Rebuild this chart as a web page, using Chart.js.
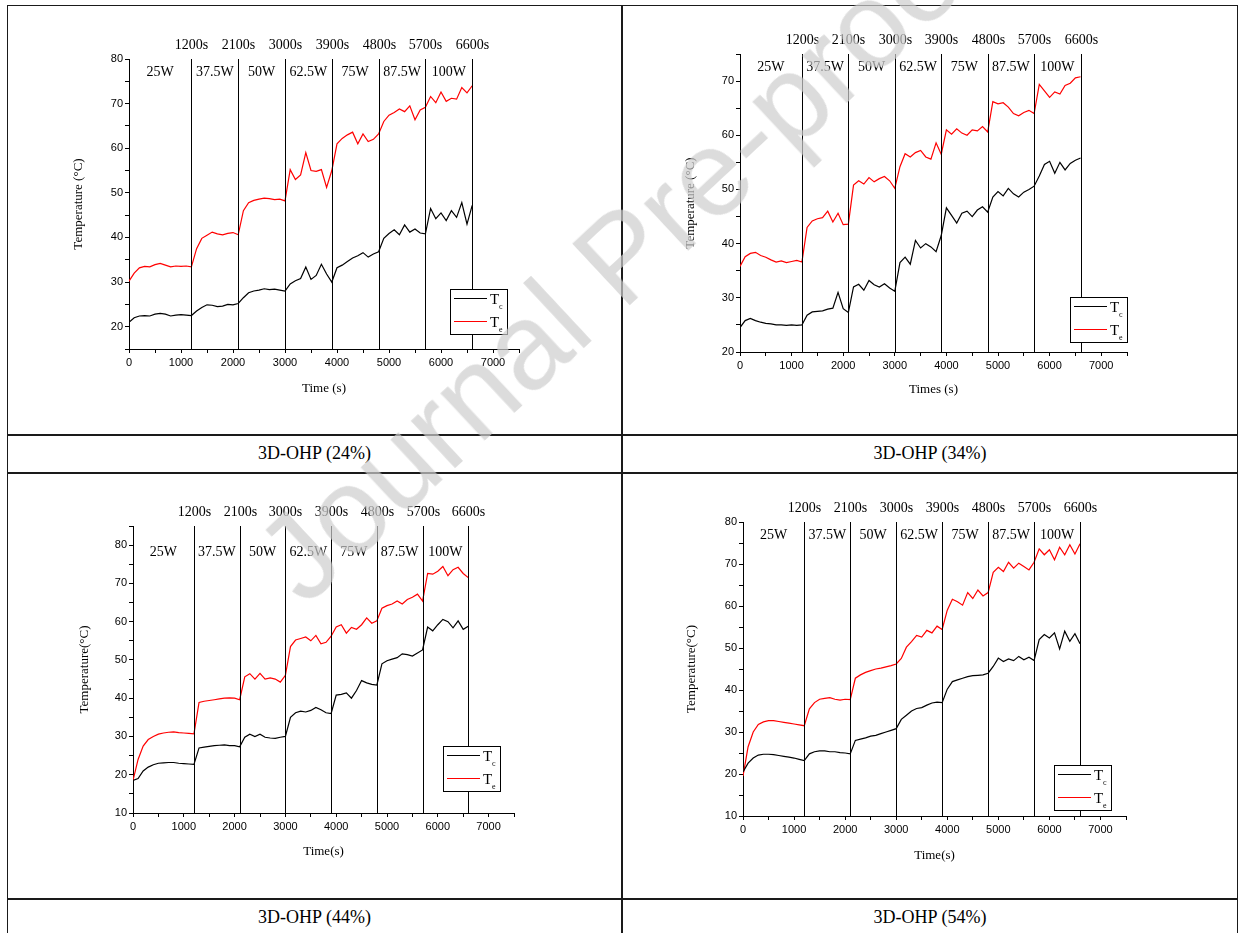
<!DOCTYPE html>
<html>
<head>
<meta charset="utf-8">
<script src="https://cdn.jsdelivr.net/npm/chart.js@4.4.0/dist/chart.umd.min.js"></script>
<style>
  html, body { margin: 0; padding: 0; background: #fff; }
  body { width: 1238px; height: 933px; position: relative; overflow: hidden; font-family: "Liberation Serif", serif; }
  .rule { position: absolute; background: #1a1a1a; }
  .panel { position: absolute; }
  .caption { position: absolute; font-size: 18px; color: #000; text-align: center; line-height: 20px; }
  .stamp {
    position: absolute; left: 318px; top: 500px;
    font: 122px "Liberation Sans", Arial, sans-serif; line-height: 122px;
    color: rgba(205, 205, 205, 0.7); white-space: nowrap;
    transform-origin: 0 100%; transform: rotate(-43deg);
    pointer-events: none; z-index: 5;
  }
</style>
</head>
<body>

<!-- table rules -->
<div class="rule" style="left:7px;top:5px;width:1231px;height:1px"></div>
<div class="rule" style="left:7px;top:5px;width:1px;height:928px"></div>
<div class="rule" style="left:621px;top:5px;width:2px;height:928px"></div>
<div class="rule" style="left:1237px;top:5px;width:1px;height:928px"></div>
<div class="rule" style="left:7px;top:434px;width:1231px;height:2px"></div>
<div class="rule" style="left:7px;top:472px;width:1231px;height:2px"></div>
<div class="rule" style="left:7px;top:898px;width:1231px;height:2px"></div>

<div class="panel" style="left:9px;top:7px"><canvas id="c24" width="612" height="427"></canvas></div>
<div class="panel" style="left:623px;top:7px"><canvas id="c34" width="614" height="427"></canvas></div>
<div class="panel" style="left:9px;top:474px"><canvas id="c44" width="612" height="424"></canvas></div>
<div class="panel" style="left:623px;top:474px"><canvas id="c54" width="614" height="424"></canvas></div>

<div class="caption" id="cap0" style="left:8px;width:613px;top:443px"></div>
<div class="caption" id="cap1" style="left:623px;width:614px;top:443px"></div>
<div class="caption" id="cap2" style="left:8px;width:613px;top:907px"></div>
<div class="caption" id="cap3" style="left:623px;width:614px;top:907px"></div>

<div class="stamp">Journal Pre-proof</div>

<script>
// sample times (s)
const times = [0,100,200,300,400,500,600,700,800,900,1000,1100,1200,1300,1400,1500,1600,1700,1800,1900,2000,2100,
  2200,2300,2400,2500,2600,2700,2800,2900,3000,3100,3200,3300,3400,3500,3600,3700,3800,3900,4000,4100,4200,4300,
  4400,4500,4600,4700,4800,4900,5000,5100,5200,5300,5400,5500,5600,5700,5800,5900,6000,6100,6200,6300,6400,6500,6600];

// heat input steps
const boundaries = [1200, 2100, 3000, 3900, 4800, 5700, 6600];
const powers = ['25W', '37.5W', '50W', '62.5W', '75W', '87.5W', '100W'];

// filling ratio 24%
const p24Tc = [21.0,22.0,22.4,22.5,22.4,22.8,23.0,22.8,22.4,22.6,22.7,22.6,22.5,
  23.5,24.3,24.9,24.8,24.5,24.6,25.0,24.9,25.2,
  26.5,27.6,28.0,28.2,28.5,28.3,28.4,28.2,28.0,
  29.6,30.3,30.8,33.4,30.6,31.5,34.0,31.8,30.0,
  33.2,33.8,34.6,35.4,35.9,36.6,35.6,36.3,36.8,
  39.8,40.9,41.7,40.6,42.8,41.2,41.9,41.0,40.8,
  46.5,44.2,45.5,43.8,46.0,44.5,47.8,43.0,47.2];
const p24Te = [30.2,32.0,33.2,33.5,33.4,33.9,34.2,33.8,33.4,33.6,33.5,33.6,33.4,
  37.5,39.8,40.5,41.2,40.8,40.6,40.9,41.1,40.6,
  46.0,47.8,48.3,48.6,48.8,48.7,48.5,48.6,48.2,
  55.2,53.0,54.0,59.0,55.0,54.8,55.2,51.2,55.0,
  61.0,62.2,63.0,63.6,61.0,63.2,61.5,62.0,63.2,
  66.0,67.4,68.0,68.8,68.2,69.5,66.4,68.6,69.2,
  71.6,70.2,72.6,70.5,71.2,71.0,73.6,72.4,74.0];

// filling ratio 34%
const p34Tc = [24.5,25.8,26.2,25.8,25.5,25.3,25.2,25.0,25.0,24.9,25.0,24.9,25.0,
  26.8,27.4,27.5,27.6,27.9,28.1,31.0,28.0,27.3,
  32.0,32.5,31.4,33.2,32.4,32.0,32.6,31.8,31.2,
  36.5,37.5,36.2,40.6,39.2,40.0,39.4,38.5,41.5,
  46.6,45.2,43.8,45.6,46.0,45.0,46.2,46.8,45.8,
  48.6,49.6,48.8,50.2,49.2,48.6,49.5,50.0,50.6,
  52.5,54.6,55.2,53.0,55.0,53.6,54.8,55.4,55.8];
const p34Te = [35.8,37.6,38.2,38.4,37.8,37.5,37.0,36.6,36.8,36.5,36.7,36.9,36.6,
  43.0,44.2,44.6,44.8,46.0,44.0,45.6,43.5,43.6,
  50.8,51.6,51.0,52.2,51.4,52.0,52.4,51.6,50.2,
  54.2,56.6,56.0,56.8,57.2,56.0,55.6,58.6,56.5,
  61.0,60.2,61.2,60.4,60.0,61.0,60.8,61.6,60.6,
  66.2,65.8,66.0,65.2,64.0,63.6,64.2,64.6,64.0,
  69.4,68.2,67.0,68.0,67.6,69.2,69.6,70.6,70.8];

// filling ratio 44%
const p44Tc = [18.5,19.0,21.0,22.0,22.6,23.0,23.1,23.2,23.2,23.0,22.9,22.8,22.7,
  27.0,27.2,27.4,27.6,27.7,27.8,27.6,27.6,27.3,
  29.8,30.6,30.0,30.6,29.8,29.6,29.5,29.8,30.0,
  35.0,36.2,36.6,36.4,36.8,37.6,37.0,36.2,36.0,
  40.8,41.0,41.4,40.0,42.0,44.6,44.0,43.6,43.4,
  49.0,49.8,50.2,50.6,51.6,51.4,51.0,51.8,52.6,
  58.6,57.6,59.2,60.6,60.0,58.4,60.2,58.0,58.8];
const p44Te = [18.5,24.0,27.5,29.2,30.0,30.6,30.9,31.1,31.2,31.0,30.9,30.8,30.7,
  38.9,39.2,39.4,39.6,39.8,40.0,40.1,40.0,39.6,
  45.6,46.4,45.0,46.5,45.0,45.3,45.0,44.2,46.0,
  53.5,55.2,55.6,56.0,55.0,56.4,54.2,54.6,56.2,
  58.6,59.2,57.0,58.5,58.0,59.2,61.0,59.6,60.2,
  63.5,64.2,64.6,65.4,64.6,65.8,66.4,67.2,65.4,
  72.6,72.4,73.2,74.4,72.0,73.6,74.2,72.6,71.5];

// filling ratio 54%
const p54Tc = [20.5,22.6,23.8,24.5,24.7,24.7,24.6,24.4,24.2,24.0,23.8,23.5,23.2,
  24.8,25.3,25.5,25.5,25.3,25.3,25.1,25.0,24.8,
  28.0,28.3,28.6,29.0,29.2,29.6,30.0,30.4,30.8,
  33.0,34.0,35.0,35.6,35.8,36.4,36.9,37.1,37.0,
  40.2,42.0,42.4,42.8,43.2,43.4,43.5,43.6,44.0,
  45.6,47.6,46.8,47.4,47.0,48.0,47.2,47.8,47.0,
  52.0,53.2,52.4,53.6,49.8,54.0,51.6,53.4,51.0];
const p54Te = [19.5,26.5,30.0,31.8,32.4,32.7,32.7,32.5,32.3,32.1,31.9,31.7,31.5,
  35.5,37.0,37.8,38.0,38.2,37.8,37.6,37.8,37.7,
  42.8,43.6,44.2,44.6,45.0,45.2,45.5,45.8,46.2,
  47.5,50.2,51.5,53.0,52.6,54.2,53.6,55.2,54.4,
  59.0,61.6,61.0,60.2,63.2,61.8,63.8,62.4,63.2,
  68.0,69.2,68.2,70.4,69.0,70.2,69.4,68.6,70.4,
  73.6,72.2,73.4,71.0,74.0,72.2,74.6,72.4,74.8];

const captions = ['3D-OHP (24%)', '3D-OHP (34%)', '3D-OHP (44%)', '3D-OHP (54%)'];
const xTitles = ['Time (s)', 'Times (s)', 'Time(s)', 'Time(s)'];
const yTitles = ['Temperature (\u00B0C)', 'Temperature (\u00B0C)', 'Temperature(\u00B0C)', 'Temperature(\u00B0C)'];
const yMin = [15, 20, 10, 10];
const yMax = [80, 75, 85, 80];
const tcSeries = [p24Tc, p34Tc, p44Tc, p54Tc];
const teSeries = [p24Te, p34Te, p44Te, p54Te];

// page placement of each canvas and its plot box
const canvasBox = [
  {left: 9, top: 7, width: 612, height: 427},
  {left: 623, top: 7, width: 614, height: 427},
  {left: 9, top: 474, width: 612, height: 424},
  {left: 623, top: 474, width: 614, height: 424}
];
const plotBox = [
  {left: 129, right: 519, top: 59, bottom: 349, yTitle: 79, xTitle: 389, drop: 13, keyRight: 12, keyBottom: 15},
  {left: 740, right: 1127, top: 54, bottom: 352, yTitle: 691, xTitle: 390, drop: 13, keyRight: 0, keyBottom: 10},
  {left: 133, right: 514, top: 526, bottom: 813, yTitle: 85, xTitle: 852, drop: 26, keyRight: 14, keyBottom: 22},
  {left: 743, right: 1126, top: 522, bottom: 816, yTitle: 692, xTitle: 856, drop: 13, keyRight: 15, keyBottom: 6}
];

Chart.defaults.color = '#000';
Chart.defaults.font.family = '"Liberation Sans", Arial, sans-serif';

// vertical step lines, their time labels and the heat input labels
const stagePlugin = {
  id: 'stages',
  afterDatasetsDraw(chart, args, opts) {
    const {ctx, chartArea, scales} = chart;
    const x = scales.x;
    ctx.save();
    ctx.strokeStyle = '#000';
    ctx.lineWidth = 1;
    ctx.fillStyle = '#000';
    ctx.textAlign = 'center';
    ctx.textBaseline = 'middle';
    ctx.font = '14px "Liberation Serif", serif';
    let prev = 0;
    boundaries.forEach((t, i) => {
      const px = Math.round(x.getPixelForValue(t)) + 0.5;
      ctx.beginPath();
      ctx.moveTo(px, chartArea.top);
      ctx.lineTo(px, chartArea.bottom);
      ctx.stroke();
      ctx.fillText(t + 's', px, chartArea.top - 14);
      ctx.fillText(powers[i], x.getPixelForValue((prev + t) / 2), chartArea.top + opts.drop);
      prev = t;
    });
    ctx.restore();
  }
};

// boxed key with subscripted labels
const keyPlugin = {
  id: 'key',
  afterDraw(chart, args, opts) {
    const {ctx, chartArea} = chart;
    const w = 57, h = 45;
    const x0 = Math.round(chartArea.right - opts.right - w);
    const y0 = Math.round(chartArea.bottom - opts.bottom - h);
    ctx.save();
    ctx.fillStyle = '#fff';
    ctx.fillRect(x0, y0, w, h);
    ctx.strokeStyle = '#000';
    ctx.lineWidth = 1;
    ctx.strokeRect(x0 + 0.5, y0 + 0.5, w, h);
    chart.data.datasets.forEach((ds, i) => {
      const ly = y0 + 9.5 + i * 23;
      ctx.strokeStyle = ds.borderColor;
      ctx.beginPath();
      ctx.moveTo(x0 + 4, ly);
      ctx.lineTo(x0 + 37, ly);
      ctx.stroke();
      ctx.fillStyle = '#000';
      ctx.textBaseline = 'alphabetic';
      ctx.font = '15px "Liberation Serif", serif';
      ctx.fillText(ds.label.charAt(0), x0 + 40, ly + 5);
      ctx.font = '8px "Liberation Serif", serif';
      ctx.fillText(ds.label.slice(1), x0 + 49, ly + 10);
    });
    ctx.restore();
  }
};

function build(i, id) {
  const c = canvasBox[i], p = plotBox[i];
  const half = 7.8;
  const padLeft = p.yTitle - c.left - half;
  const padBottom = c.top + c.height - p.xTitle - half;
  const yWidth = p.left - c.left - padLeft;
  const xHeight = c.top + c.height - padBottom - p.bottom;
  const points = arr => times.map((t, k) => ({x: t, y: arr[k]}));

  new Chart(document.getElementById(id).getContext('2d'), {
    type: 'line',
    data: {
      datasets: [
        {label: 'Tc', data: points(tcSeries[i]), borderColor: '#000', borderWidth: 1.2, pointRadius: 0, tension: 0},
        {label: 'Te', data: points(teSeries[i]), borderColor: '#ff0000', borderWidth: 1.2, pointRadius: 0, tension: 0}
      ]
    },
    options: {
      responsive: false,
      animation: false,
      layout: {padding: {left: padLeft, top: p.top - c.top, right: c.left + c.width - p.right, bottom: padBottom}},
      plugins: {
        legend: {display: false},
        tooltip: {enabled: false},
        stages: {drop: p.drop},
        key: {right: p.keyRight, bottom: p.keyBottom}
      },
      scales: {
        x: {
          type: 'linear', min: 0, max: 7500,
          afterFit: s => { s.height = xHeight; },
          grid: {drawOnChartArea: false, color: '#000', tickLength: 4},
          border: {color: '#000', width: 1},
          ticks: {stepSize: 500, autoSkip: false, maxRotation: 0, padding: 3, font: {size: 11},
                  callback: v => (v % 1000 === 0 ? v : '')},
          title: {display: true, text: xTitles[i], padding: 0, font: {family: '"Liberation Serif", serif', size: 13}}
        },
        y: {
          min: yMin[i], max: yMax[i],
          afterFit: s => { s.width = yWidth; },
          grid: {drawOnChartArea: false, color: '#000', tickLength: 4},
          border: {color: '#000', width: 1},
          ticks: {stepSize: 5, autoSkip: false, padding: 2, font: {size: 11},
                  callback: v => (v % 10 === 0 ? v : '')},
          title: {display: true, text: yTitles[i], padding: 0, font: {family: '"Liberation Serif", serif', size: 13}}
        }
      }
    },
    plugins: [stagePlugin, keyPlugin]
  });
}

['c24', 'c34', 'c44', 'c54'].forEach((id, i) => {
  build(i, id);
  document.getElementById('cap' + i).textContent = captions[i];
});
</script>
</body>
</html>
